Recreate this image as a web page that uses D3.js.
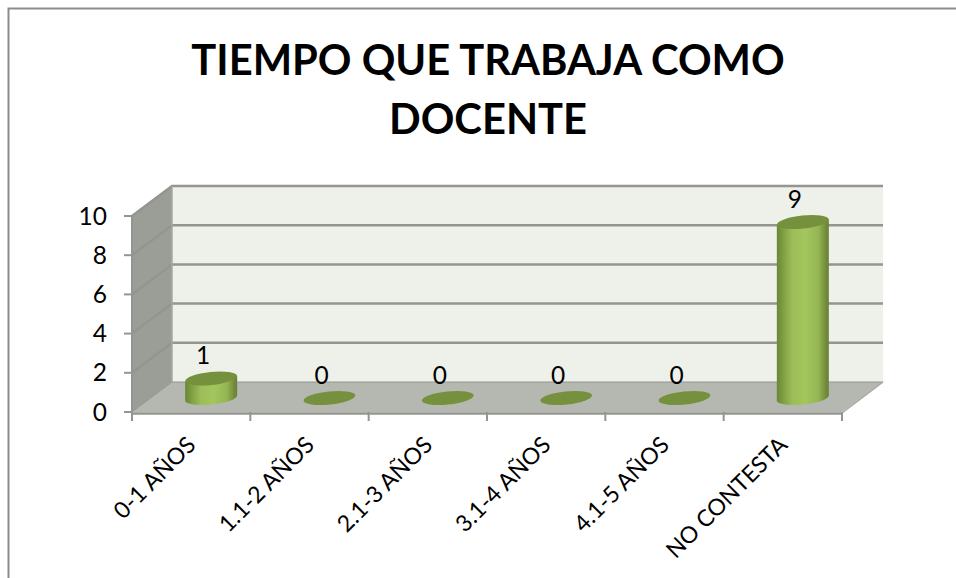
<!DOCTYPE html>
<html><head><meta charset="utf-8">
<script src="https://cdn.jsdelivr.net/npm/d3@7"></script>
<style>html,body{margin:0;padding:0;background:#fff}svg{display:block}text{font-family:Lato,"Open Sans",sans-serif;fill:#000}</style>
</head><body><svg id="c" width="956" height="578"></svg>
<script>
const categories = ["0-1 AÑOS","1.1-2 AÑOS","2.1-3 AÑOS","3.1-4 AÑOS","4.1-5 AÑOS","NO CONTESTA"];
const values = [1,0,0,0,0,9];
const yTicks = [0,2,4,6,8,10];
const titleLines = ["TIEMPO QUE TRABAJA COMO","DOCENTE"];

const svg = d3.select("#c");
const W = 956, H = 578;
const front = {x0:132, x1:842, y0:412, y1:216};
const back  = {x0:172, x1:883, y0:382, y1:186};
const yFront = d3.scaleLinear().domain([0,10]).range([front.y0, front.y1]);
const yBack  = d3.scaleLinear().domain([0,10]).range([back.y0, back.y1]);
const xFront = d3.scaleBand().domain(categories).range([front.x0, front.x1]);
const xMid   = d3.scaleBand().domain(categories).range([152, 862]);
const yMid   = d3.scaleLinear().domain([0,10]).range([398, 202.5]);

const defs = svg.append("defs");
const g = defs.append("linearGradient").attr("id","cyl");
[[0,"#6a8636"],[.12,"#7f9e43"],[.3,"#9cbd59"],[.55,"#a3c65e"],[.8,"#95b552"],[.95,"#71893a"],[1,"#688235"]]
  .forEach(([o,c])=>g.append("stop").attr("offset",o).attr("stop-color",c));

// chart frame
svg.append("path").attr("d",`M8.5,578V8.5H${W}`).attr("fill","none").attr("stroke","#8c8c8c").attr("stroke-width",2);

// back wall, side wall, floor
svg.append("rect").attr("x",back.x0).attr("y",back.y1).attr("width",back.x1-back.x0).attr("height",back.y0-back.y1).attr("fill","#eef1ea");
svg.append("path").attr("d",`M${front.x0},${front.y0}L${front.x0},${front.y1}L${back.x0},${back.y1}L${back.x0},${back.y0}Z`).attr("fill","#9b9e97");
svg.append("path").attr("d",`M${front.x0},${front.y0}L${back.x0},${back.y0}L${back.x1},${back.y0}L${front.x1},${front.y0}Z`).attr("fill","#b5b7b1");

// gridlines
yTicks.forEach(t=>{
  svg.append("path").attr("d",`M${front.x0},${yFront(t)}L${back.x0},${yBack(t)}L${back.x1},${yBack(t)}`)
    .attr("fill","none").attr("stroke","#949591").attr("stroke-width",t===0?1:2.5);
});
svg.append("path").attr("d",`M${back.x0},${back.y0}V${back.y1}`).attr("stroke","#a6a8a3").attr("stroke-width",1.5);
svg.append("path").attr("d",`M${front.x1},${front.y0+1}L${back.x1},${back.y0}`).attr("stroke","#a6a8a3").attr("stroke-width",1.5);

// axes
const axisStroke = "#949591";
svg.append("path").attr("d",`M${front.x0},${front.y1-1}V${front.y0+1}`).attr("stroke",axisStroke).attr("stroke-width",2);
svg.append("path").attr("d",`M${front.x0},${front.y0+1.5}H${front.x1}`).attr("stroke",axisStroke).attr("stroke-width",2.5);
yTicks.forEach(t=>{
  svg.append("path").attr("d",`M${front.x0-8},${yFront(t)}H${front.x0}`).attr("stroke",axisStroke).attr("stroke-width",2);
  svg.append("text").attr("x",107).attr("y",yFront(t)+8.5).attr("text-anchor","end").attr("font-size",24.5).text(t);
});
[...categories.map(c=>xFront(c)), front.x1].forEach(x=>{
  svg.append("path").attr("d",`M${x},${front.y0}V${front.y0+9}`).attr("stroke",axisStroke).attr("stroke-width",2);
});
categories.forEach(c=>{
  const x = xFront(c)+xFront.bandwidth()/2 + 6, y = 446.5;
  svg.append("text").attr("transform",`translate(${x},${y}) rotate(-45)`).attr("text-anchor","end")
    .attr("font-size",23).text(c);
});

// cylinders
const rx = 26, ry = 6.5, tilt = 0.105;
categories.forEach((c,i)=>{
  const cx = xMid(c)+xMid.bandwidth()/2, v = values[i];
  const yb = yMid(0), yt = yMid(v);
  const dy = rx*tilt;
  if (v>0) {
    svg.append("path")
      .attr("d",`M${cx-rx},${yt+dy}L${cx-rx},${yb+dy}A${rx},${ry} -6 0 0 ${cx+rx},${yb-dy}L${cx+rx},${yt-dy}Z`)
      .attr("fill","url(#cyl)");
  }
  svg.append("ellipse").attr("rx",rx).attr("ry",ry)
    .attr("transform",`translate(${cx},${yt}) rotate(-6)`).attr("fill","#76913d");
  svg.append("text").attr("x",cx-8).attr("y",yt-14).attr("text-anchor","middle").attr("font-size",24.5).text(v);
});

// title
titleLines.forEach((l,i)=>{
  svg.append("text").attr("x",488).attr("y",75+i*59).attr("text-anchor","middle")
    .attr("font-size",41.7).attr("font-weight",700).text(l);
});
</script></body></html>
